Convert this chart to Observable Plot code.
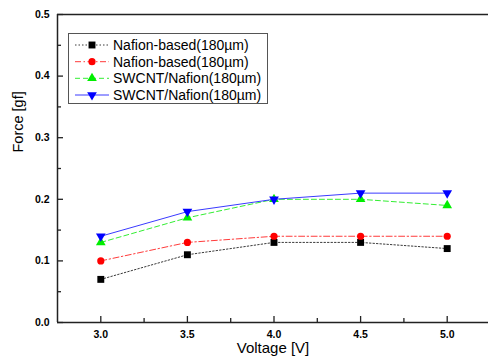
<!DOCTYPE html>
<html>
<head>
<meta charset="utf-8">
<script src="https://cdn.jsdelivr.net/npm/d3@7"></script>
<script src="https://cdn.jsdelivr.net/npm/@observablehq/plot@0.6"></script>
<style>
  html, body { margin: 0; padding: 0; background: #fff; }
  #chart { width: 488px; height: 358px; }
</style>
</head>
<body>
<div id="chart"></div>
<script>
const voltage = [3.0, 3.5, 4.0, 4.5, 5.0];
const seriesNames = ["Nafion-based(180µm)", "Nafion-based(180µm)", "SWCNT/Nafion(180µm)", "SWCNT/Nafion(180µm)"];
const nafionBlack = [0.07, 0.11, 0.13, 0.13, 0.12];
const nafionRed = [0.10, 0.13, 0.14, 0.14, 0.14];
const swcntGreen = [0.13, 0.17, 0.20, 0.20, 0.19];
const swcntBlue = [0.14, 0.18, 0.20, 0.21, 0.21];
const xTicks = [3.0, 3.5, 4.0, 4.5, 5.0];
const xMinorTicks = [3.25, 3.75, 4.25, 4.75];
const yTicks = [0.0, 0.1, 0.2, 0.3, 0.4, 0.5];
const yMinorTicks = [0.05, 0.15, 0.25, 0.35, 0.45];

const styles = [
  {stroke: "#3a3a3a", dash: "1.5,2", fill: "#000000", symbol: "square", r: 3.9, rotate: 0},
  {stroke: "#ff3b3b", dash: "6,2.5,1.5,2.5", fill: "#ff0000", symbol: "circle", r: 3.6, rotate: 0},
  {stroke: "#33ee33", dash: "5,3", fill: "#00ee00", symbol: "triangle", r: 3.6, rotate: 0},
  {stroke: "#3a3aff", dash: null, fill: "#0000ff", symbol: "triangle", r: 3.6, rotate: 180}
];
const seriesValues = [nafionBlack, nafionRed, swcntGreen, swcntBlue];
const data = seriesValues.map((vals, s) => vals.map((v, i) => ({s, x: voltage[i], y: v})));

const W = 488, H = 358;
const mL = 57, mR = 0, mT = 14, mB = 36;
const frameW = W - mL - mR, frameH = H - mT - mB;
const font = "'Liberation Sans', Arial, sans-serif";

const marks = [];
// frame lines
marks.push(Plot.ruleY([0, 0.5], {stroke: "#222", strokeWidth: 1.5}));
marks.push(Plot.ruleX([2.75], {stroke: "#222", strokeWidth: 1.5}));
// inward ticks
marks.push(Plot.tickY(yTicks, {y: d => d, insetRight: frameW - 6, stroke: "#222", strokeWidth: 1.3}));
marks.push(Plot.tickY(yMinorTicks, {y: d => d, insetRight: frameW - 4, stroke: "#222", strokeWidth: 1.3}));
marks.push(Plot.tickX(xTicks, {x: d => d, insetTop: frameH - 6, stroke: "#222", strokeWidth: 1.3}));
marks.push(Plot.tickX(xMinorTicks, {x: d => d, insetTop: frameH - 4, stroke: "#222", strokeWidth: 1.3}));
// axes labels
marks.push(Plot.axisY(yTicks, {tickSize: 0, tickPadding: 8, tickFormat: d3.format(".1f"), fontWeight: "bold", fontSize: 10.5, label: null}));
marks.push(Plot.axisX(xTicks, {tickSize: 0, tickPadding: 8.5, tickFormat: d3.format(".1f"), fontWeight: "bold", fontSize: 10.5, label: null}));
marks.push(Plot.text(["Voltage [V]"], {frameAnchor: "bottom", dy: 25.5, text: d => d, fontSize: 15, lineAnchor: "middle"}));
marks.push(Plot.text(["Force [gf]"], {frameAnchor: "left", dx: -39, dy: -16, rotate: -90, text: d => d, fontSize: 14.5, lineAnchor: "middle"}));
// series
data.forEach((d, s) => {
  const st = styles[s];
  marks.push(Plot.line(d, {x: "x", y: "y", stroke: st.stroke, strokeWidth: 1, strokeDasharray: st.dash}));
});
data.forEach((d, s) => {
  const st = styles[s];
  marks.push(Plot.dot(d, {x: "x", y: "y", symbol: st.symbol, r: st.r, fill: st.fill, stroke: "none", rotate: st.rotate}));
});

const chart = Plot.plot({
  width: W, height: H,
  marginLeft: mL, marginRight: mR, marginTop: mT, marginBottom: mB,
  style: {fontFamily: font, background: "#fff", color: "#000"},
  x: {domain: [2.75, 5.25], range: [mL, 490], axis: null},
  y: {domain: [0, 0.5], range: [H - mB, mT], axis: null},
  marks
});
document.getElementById("chart").appendChild(chart);

// legend (overlay, layout only)
const svg = d3.select(chart);
const lg = svg.append("g").attr("font-family", font).attr("font-size", 14).attr("text-anchor", "start");
lg.append("rect").attr("x", 68.5).attr("y", 33.5).attr("width", 199).attr("height", 70)
  .attr("fill", "#fff").attr("stroke", "#555").attr("stroke-width", 1);
const rowY = [45, 61.7, 78.3, 95];
styles.forEach((st, i) => {
  const y = rowY[i];
  lg.append("line").attr("x1", 75).attr("x2", 109).attr("y1", y).attr("y2", y)
    .attr("stroke", st.stroke).attr("stroke-width", 1).attr("stroke-dasharray", st.dash);
  const symType = {square: d3.symbolSquare, circle: d3.symbolCircle, triangle: d3.symbolTriangle}[st.symbol];
  lg.append("path").attr("d", d3.symbol(symType, Math.PI * st.r * st.r)())
    .attr("transform", `translate(92,${y}) rotate(${st.rotate})`).attr("fill", st.fill);
  lg.append("text").attr("x", 113).attr("y", y).attr("dy", "0.35em").attr("fill", "#000")
    .attr("text-anchor", "start").text(seriesNames[i]);
});
</script>
</body>
</html>
